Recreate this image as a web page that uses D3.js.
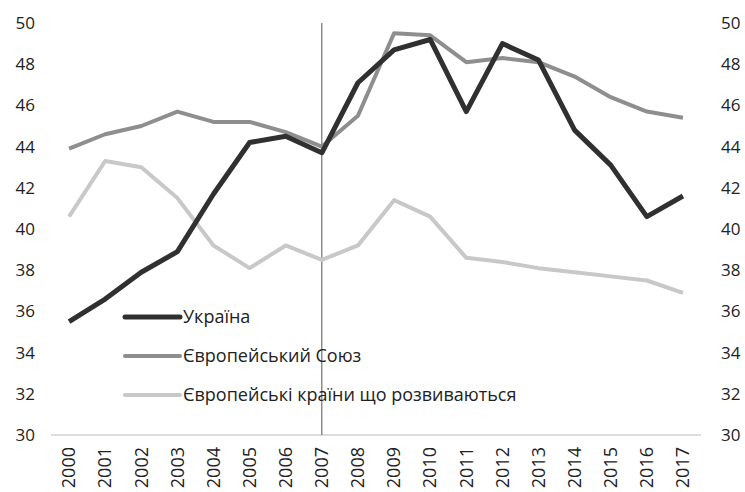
<!DOCTYPE html>
<html>
<head>
<meta charset="utf-8">
<script src="https://cdn.jsdelivr.net/npm/d3@7"></script>
<style>
  body { margin: 0; background: #fff; }
  text { font-family: "Open Sans", "Noto Sans", sans-serif; fill: #222; }
</style>
</head>
<body>
<svg id="chart" width="745" height="492"></svg>
<script>
const years = ["2000","2001","2002","2003","2004","2005","2006","2007","2008",
               "2009","2010","2011","2012","2013","2014","2015","2016","2017"];
const ukraine   = [35.5,36.6,37.9,38.9,41.7,44.2,44.5,43.7,47.1,48.7,49.2,45.7,49.0,48.2,44.8,43.1,40.6,41.6];
const eu        = [43.9,44.6,45.0,45.7,45.2,45.2,44.7,44.0,45.5,49.5,49.4,48.1,48.3,48.1,47.4,46.4,45.7,45.4];
const emerging  = [40.6,43.3,43.0,41.5,39.2,38.1,39.2,38.5,39.2,41.4,40.6,38.6,38.4,38.1,37.9,37.7,37.5,36.9];
const yTicks = [30,32,34,36,38,40,42,44,46,48,50];
const seriesNames = ["Україна", "Європейський Союз", "Європейські країни що розвиваються"];
const seriesColors = ["#303030", "#8e8e8e", "#c8c8c8"];
const seriesWidths = [5, 4, 4];
const markerYear = "2007";

let svg = d3.select("#chart")

let x = d3.scaleBand().domain(years).range([51, 701])
let y = d3.scaleLinear().domain([30, 50]).range([435, 23])
let cx = d => x(d) + x.bandwidth() / 2

// left / right value labels
let yLeft = d3.axisLeft(y).tickValues(yTicks).tickSize(0).tickPadding(0)
svg.append("g").attr("transform", "translate(35,0)").call(yLeft)
    .call(g => g.select(".domain").remove())
    .selectAll("text").attr("font-size", 17)
let yRight = d3.axisRight(y).tickValues(yTicks).tickSize(0).tickPadding(0)
svg.append("g").attr("transform", "translate(721,0)").call(yRight)
    .call(g => g.select(".domain").remove())
    .selectAll("text").attr("font-size", 17)

// baseline
svg.append("line")
    .attr("x1", x.range()[0]).attr("x2", x.range()[1])
    .attr("y1", y(30)).attr("y2", y(30))
    .attr("stroke", "#d0d0d0").attr("stroke-width", 1.5)

// year labels
let xAxis = d3.axisBottom(x).tickSize(0).tickPadding(0)
svg.append("g").attr("transform", `translate(0,${y(30)})`).call(xAxis)
    .call(g => g.select(".domain").remove())
    .selectAll("text")
    .attr("font-size", 18)
    .attr("text-anchor", "end")
    .attr("dy", "0.35em")
    .attr("transform", "translate(0,12) rotate(-90)")

// vertical marker at 2007
svg.append("line")
    .attr("x1", cx(markerYear)).attr("x2", cx(markerYear))
    .attr("y1", y(50)).attr("y2", y(30))
    .attr("stroke", "#555").attr("stroke-width", 1)

// series lines
let line = d3.line().x((d, i) => cx(years[i])).y(d => y(d))
let allSeries = [ukraine, eu, emerging]
for (let k = allSeries.length - 1; k >= 0; k--) {
    svg.append("path")
        .datum(allSeries[k])
        .attr("d", line)
        .attr("fill", "none")
        .attr("stroke", seriesColors[k])
        .attr("stroke-width", seriesWidths[k])
        .attr("stroke-linejoin", "round")
}

// legend
seriesNames.forEach(function (name, i) {
    let lg = svg.append("g").attr("transform", `translate(125,${317 + i * 39})`)
    lg.append("line").attr("x1", 0).attr("x2", 55).attr("y1", 0).attr("y2", 0)
        .attr("stroke", seriesColors[i]).attr("stroke-width", seriesWidths[i])
        .attr("stroke-linecap", "round")
    lg.append("text").attr("x", 58).attr("dy", "0.35em")
        .attr("font-size", 18).text(name)
})
</script>
</body>
</html>
